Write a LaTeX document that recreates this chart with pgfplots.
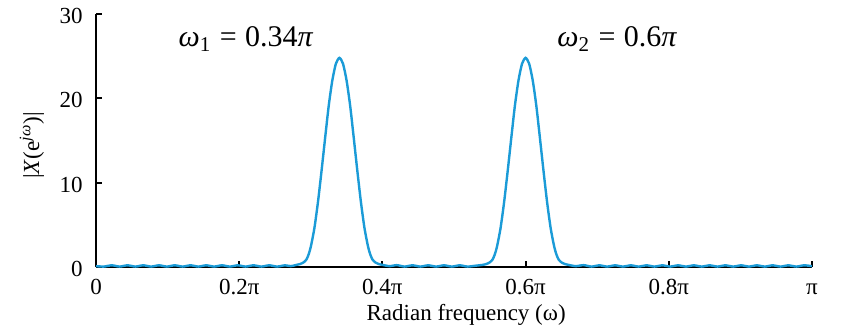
\documentclass[border=0pt]{standalone}
\usepackage{fontspec}
\setmainfont{Liberation Serif}
\usepackage{pgfplots}
\pgfplotsset{compat=1.18}
\definecolor{curveblue}{RGB}{27,155,215}
\begin{document}
\begin{tikzpicture}[font=\fontsize{11.5}{14}\selectfont]
\useasboundingbox (-48pt,-34pt) rectangle (374pt,133.5pt);
\begin{axis}[
  at={(0,0)}, anchor=south west,
  scale only axis, width=358pt, height=126.5pt,
  xmin=0, xmax=1, ymin=0, ymax=30,
  axis x line=bottom, axis y line=left,
  axis line style={-, line width=1pt, black},
  xtick={0,0.2,0.4,0.6,0.8,1},
  xticklabels={0,0.2π,0.4π,0.6π,0.8π,π},
  ytick={0,10,20,30},
  yticklabels={0,10,20,30},
  tick align=inside,
  major tick length=3pt,
  tick style={line width=1pt, black},
  xticklabel style={anchor=base, yshift=-14pt, inner sep=0pt},
  yticklabel style={anchor=east, xshift=-6.5pt, yshift=-1pt, inner sep=0pt},
  xlabel={Radian frequency (ω)},
  xlabel style={at={(axis description cs:0.517,0)}, anchor=base, yshift=-27pt, inner sep=0pt},
  ylabel={|\textit{X}(e\textsuperscript{\textit{jω}})|},
  ylabel style={at={(axis description cs:0,0.48)}, anchor=center, yshift=32pt, inner sep=0pt},
  clip=false,
]
\addplot[curveblue, line width=1.2pt, smooth, tension=0.4] coordinates {
(0,0.1) (0.011,0.05) (0.022,0.2) (0.033,0.05) (0.044,0.2) (0.055,0.05) (0.066,0.2) (0.077,0.05)
(0.088,0.2) (0.099,0.05) (0.110,0.2) (0.121,0.05) (0.132,0.2) (0.143,0.05) (0.154,0.2) (0.165,0.05)
(0.176,0.2) (0.187,0.05) (0.198,0.2) (0.209,0.05) (0.220,0.2) (0.231,0.05) (0.242,0.2) (0.253,0.05)
(0.264,0.2) (0.272,0.1)
(0.28,0.25) (0.285,0.35) (0.29,0.55) (0.294,0.9) (0.297,1.5) (0.30,2.4) (0.305,4.6) (0.31,7.7)
(0.315,11.4) (0.32,15.3) (0.325,19.1) (0.33,22.1) (0.335,24.1) (0.34,24.8) (0.345,24.1) (0.35,22.1)
(0.355,19.1) (0.36,15.3) (0.365,11.4) (0.37,7.7) (0.375,4.6) (0.38,2.4) (0.383,1.5) (0.386,0.9)
(0.39,0.55) (0.395,0.35) (0.40,0.25)
(0.41,0.1) (0.42,0.22) (0.431,0.05) (0.442,0.2) (0.453,0.05) (0.464,0.2) (0.475,0.05) (0.486,0.2)
(0.497,0.05) (0.508,0.2) (0.519,0.05) (0.53,0.15)
(0.54,0.25) (0.545,0.35) (0.55,0.55) (0.554,0.9) (0.557,1.5) (0.56,2.4) (0.565,4.6) (0.57,7.7)
(0.575,11.4) (0.58,15.3) (0.585,19.1) (0.59,22.1) (0.595,24.1) (0.60,24.8) (0.605,24.1) (0.61,22.1)
(0.615,19.1) (0.62,15.3) (0.625,11.4) (0.63,7.7) (0.635,4.6) (0.64,2.4) (0.643,1.5) (0.646,0.9)
(0.65,0.55) (0.655,0.35) (0.66,0.25)
(0.67,0.1) (0.681,0.22) (0.692,0.05) (0.703,0.2) (0.714,0.05) (0.725,0.2) (0.736,0.05) (0.747,0.2)
(0.758,0.05) (0.769,0.2) (0.780,0.05) (0.791,0.2) (0.802,0.05) (0.813,0.2) (0.824,0.05) (0.835,0.2)
(0.846,0.05) (0.857,0.2) (0.868,0.05) (0.879,0.2) (0.890,0.05) (0.901,0.2) (0.912,0.05) (0.923,0.2)
(0.934,0.05) (0.945,0.2) (0.956,0.05) (0.967,0.2) (0.978,0.05) (0.989,0.2) (1.0,0.1)
};
\node[anchor=base, font=\fontsize{15}{18}\selectfont, inner sep=0pt] at (axis cs:0.2095,26.09)
  {\textit{ω}\textsubscript{1}\hspace{0.28em}=\hspace{0.28em}0.34\textit{π}};
\node[anchor=base, font=\fontsize{15}{18}\selectfont, inner sep=0pt] at (axis cs:0.728,26.09)
  {\textit{ω}\textsubscript{2}\hspace{0.28em}=\hspace{0.28em}0.6\textit{π}};
\end{axis}
\end{tikzpicture}
\end{document}
